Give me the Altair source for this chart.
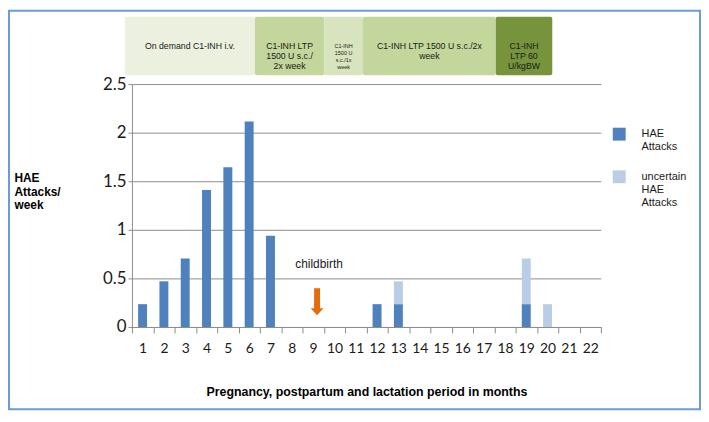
import altair as alt
import pandas as pd

# ---------------- data ----------------
months = list(range(1, 23))
hae_attacks = [0.235, 0.47, 0.705, 1.41, 1.645, 2.115, 0.94, 0, 0, 0, 0,
               0.235, 0.235, 0, 0, 0, 0, 0, 0.235, 0, 0, 0]
uncertain_attacks = [0] * 12 + [0.235] + [0] * 5 + [0.47, 0.235, 0, 0]
series_names = ["HAE Attacks", "uncertain HAE Attacks"]

treatments = [
    "On demand C1-INH i.v.",
    "C1-INH LTP\n1500 U s.c./\n2x week",
    "C1-INH\n1500 U\ns.c./1x\nweek",
    "C1-INH LTP 1500 U s.c./2x\nweek",
    "C1-INH\nLTP 60\nU/kgBW",
]
treat_start = [-0.33, 5.77, 9.02, 10.84, 17.07]   # in months from start of month 1
treat_end = [5.77, 9.02, 10.84, 17.07, 19.72]

event_month = [9]
event_label = ["childbirth"]
event_level = [0.643]
arrow_level = [0.26]

y_ticks = [0, 0.5, 1, 1.5, 2, 2.5]

# ---------------- styles ----------------
series_colors = ["#4F81BD", "#B9CDE5"]
treat_colors = ["#EBF1DE", "#C3D69B", "#D7E4BD", "#C3D69B", "#77933C"]
grey = "#8C8C8C"
W, H = 473, 245

rows = []
for m, a, u in zip(months, hae_attacks, uncertain_attacks):
    rows.append({"month": m, "type": series_names[0], "value": a, "ord": 0})
    rows.append({"month": m, "type": series_names[1], "value": u, "ord": 1})
bars_df = pd.DataFrame(rows)

treat_df = pd.DataFrame({
    "label": treatments, "start": treat_start, "end": treat_end,
    "idx": list(range(len(treatments))),
})
event_df = pd.DataFrame({"month": event_month, "label": event_label,
                         "lev": event_level, "alev": arrow_level})

x_enc = alt.X(
    "month:O",
    scale=alt.Scale(paddingInner=0, paddingOuter=0),
    axis=alt.Axis(
        title="Pregnancy, postpartum and lactation period in months",
        labelAngle=0, tickBand="extent", tickSize=6, labelPadding=9,
        labelFont="Lato", labelFontSize=14, labelColor="#1a1a1a",
        domainColor=grey, tickColor=grey, grid=False,
        titleFont="Liberation Sans", titleFontSize=12.5, titleFontWeight="bold",
        titleColor="#000000", titleBaseline="top", titleY=59,
    ),
)
y_scale = alt.Scale(domain=[0, 2.5], nice=False)

bars = alt.Chart(bars_df).mark_bar(width=alt.RelativeBandSize(0.42)).encode(
    x=x_enc,
    y=alt.Y(
        "value:Q", scale=y_scale, stack="zero",
        axis=alt.Axis(
            values=y_ticks, format="~g", title=["HAE", "Attacks/", "week"],
            titleAngle=0, titleAlign="left", titleBaseline="top",
            titleX=-119, titleY=89, titleFont="Liberation Sans",
            titleFontSize=12, titleFontWeight="bold", titleColor="#000000",
            titleLineHeight=14,
            labelFont="Lato", labelFontSize=17, labelColor="#1a1a1a",
            labelPadding=2, tickSize=4, tickColor=grey, domainColor=grey,
            gridColor=grey, gridWidth=1,
        ),
    ),
    color=alt.Color(
        "type:N",
        scale=alt.Scale(domain=series_names, range=series_colors),
        legend=alt.Legend(
            orient="none", legendX=485, legendY=44, title=None,
            symbolType="square", symbolSize=169, symbolStrokeWidth=0,
            labelFont="Liberation Sans", labelFontSize=11, labelColor="#1a1a1a",
            labelOffset=16, labelLimit=0, rowPadding=18,
            labelExpr="datum.label == 'HAE Attacks' ? ['HAE', 'Attacks'] : ['uncertain', 'HAE', 'Attacks']",
        ),
    ),
    order=alt.Order("ord:Q"),
)

# childbirth annotation (shares the month scale and axis with the bars)
event_text = alt.Chart(event_df).mark_text(
    font="Liberation Sans", fontSize=12, color="#1a1a1a", dx=6, baseline="middle",
).encode(x="month:O", y=alt.Y("lev:Q", scale=y_scale), text="label:N")
arrow_path = "M-0.46,-2.08L0.46,-2.08L0.46,1.0L1,1.0L0,2.08L-1,1.0L-0.46,1.0Z"
event_arrow = alt.Chart(event_df).mark_point(
    shape=arrow_path, size=169, filled=True, fill="#E46C0A", opacity=1,
    strokeWidth=0, xOffset=4,
).encode(x="month:O", y=alt.Y("alev:Q", scale=y_scale))

main = alt.layer(bars, event_text, event_arrow)

# treatment band above the plot
tscale = alt.Scale(domain=[0, 22], nice=False, zero=False)
band_rect = alt.Chart(treat_df).mark_rect(cornerRadius=2).encode(
    x=alt.X("start:Q", scale=tscale, axis=None), x2="end:Q",
    y=alt.value(-68), y2=alt.value(-9),
    color=alt.Color("label:N", scale=alt.Scale(domain=treatments, range=treat_colors), legend=None),
)
band_text = alt.Chart(treat_df).transform_filter("datum.idx != 2").transform_calculate(
    mid="(datum.start + datum.end) / 2"
).mark_text(
    lineBreak="\n", lineHeight=10, font="Liberation Sans", fontSize=8.8,
    color="#1a1a1a", baseline="middle", align="center",
).encode(
    x=alt.X("mid:Q", scale=tscale, axis=None),
    y=alt.value(-38.5), text="label:N",
)
band_small = alt.Chart(treat_df).transform_filter("datum.idx == 2").transform_calculate(
    mid="(datum.start + datum.end) / 2"
).mark_text(
    lineBreak="\n", lineHeight=7, font="Liberation Sans", fontSize=5.5,
    color="#1a1a1a", baseline="middle", align="center",
).encode(
    x=alt.X("mid:Q", scale=tscale, axis=None),
    y=alt.value(-38.5), text="label:N",
)
band = alt.layer(band_rect, band_text, band_small)

# outer frame
frame = alt.Chart(pd.DataFrame({"f": [0]})).mark_rect(
    fillOpacity=0, stroke="#6A9CD8", strokeWidth=2,
).encode(x=alt.value(-124), x2=alt.value(W + 100), y=alt.value(-74), y2=alt.value(H + 83))

chart = alt.layer(main, band, frame).resolve_scale(
    x="independent", color="independent"
).properties(
    width=W, height=H,
    autosize=alt.AutoSizeParams(type="none"),
    padding={"left": 125, "top": 75, "right": 101, "bottom": 84},
).configure_view(stroke=None)

chart.save("out.html", embed_options={"renderer": "svg", "actions": False})
